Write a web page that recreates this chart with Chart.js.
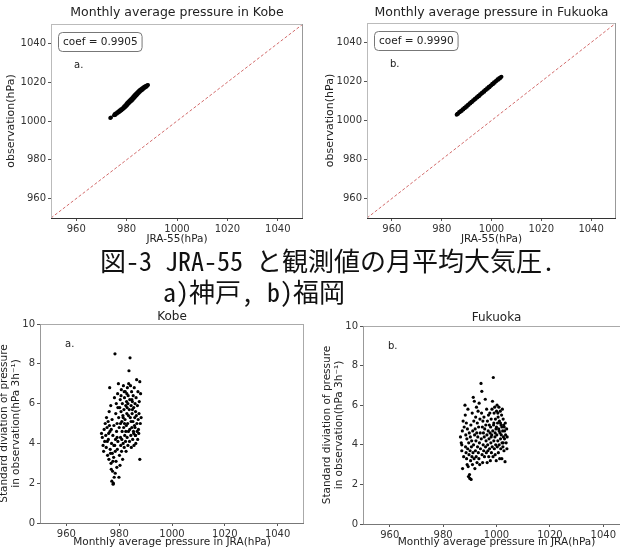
<!DOCTYPE html>
<html>
<head>
<meta charset="utf-8">
<script src="https://cdn.jsdelivr.net/npm/chart.js@4.4.1/dist/chart.umd.min.js"></script>
<style>
    html, body { margin: 0; padding: 0; background: #fff; width: 620px; height: 548px; overflow: hidden; position: relative; }
    canvas { position: absolute; }
    .caption {
        position: absolute;
        font-family: "Noto Sans CJK JP", sans-serif;
        font-size: 26px;
        line-height: 26px;
        color: #111;
        white-space: pre;
        font-feature-settings: "hwid" 1;
    }
</style>
</head>
<body>
<canvas id="kobe-monthly" width="310" height="246" style="left:0;top:0"></canvas>
<canvas id="fukuoka-monthly" width="310" height="246" style="left:310px;top:0"></canvas>
<div class="caption" style="left:100px;top:247px">図-3 JRA-55 と観測値の月平均大気圧.</div>
<div class="caption" style="left:163px;top:278px">a)神戸, b)福岡</div>
<canvas id="kobe-spread" width="320" height="256" style="left:-10px;top:300px"></canvas>
<canvas id="fukuoka-spread" width="330" height="256" style="left:310px;top:300px"></canvas>
<script>
// JRA-55 monthly mean (x) vs observed monthly mean (y), hPa
const kobeMonthly = [
    [973.5, 1001.5], [973.8, 1001.8],
    [975.0, 1003.0], [975.3, 1003.6], [975.5, 1003.1], [975.8, 1004.0], [976.1, 1003.7], [976.3, 1004.5],
    [976.6, 1004.2], [976.8, 1005.0], [977.1, 1004.6], [977.3, 1005.5], [977.6, 1005.1], [977.8, 1006.0],
    [978.0, 1005.6], [978.3, 1006.5], [978.5, 1006.1], [978.7, 1007.0], [978.9, 1006.6], [979.1, 1007.6],
    [979.3, 1007.0], [979.5, 1008.1], [979.7, 1007.5], [979.9, 1008.7], [980.1, 1008.0], [980.2, 1009.3],
    [980.4, 1008.5], [980.6, 1009.8], [980.8, 1009.0], [981.0, 1010.3], [981.2, 1009.5], [981.4, 1010.8],
    [981.6, 1010.0], [981.8, 1011.3], [982.0, 1010.5], [982.2, 1011.9], [982.4, 1011.0], [982.6, 1012.5],
    [982.8, 1011.6], [983.0, 1013.1], [983.2, 1012.1], [983.4, 1013.7], [983.6, 1012.7], [983.8, 1014.2],
    [984.0, 1013.3], [984.2, 1014.7], [984.4, 1013.9], [984.6, 1015.2], [984.8, 1014.4], [985.0, 1015.7],
    [985.2, 1014.9], [985.4, 1016.1], [985.6, 1015.4], [985.8, 1016.5], [986.0, 1015.9], [986.2, 1016.9],
    [986.4, 1016.3], [986.6, 1017.3], [986.8, 1016.7], [987.0, 1017.6], [987.2, 1017.1], [987.4, 1017.9],
    [987.6, 1017.5], [987.8, 1018.2], [988.0, 1017.8], [988.2, 1018.4], [988.5, 1018.5],
    [979.0, 1007.2], [980.5, 1009.1], [981.5, 1010.4], [982.5, 1011.7], [983.5, 1013.2], [984.5, 1014.5],
    [985.5, 1015.8], [982.9, 1012.4], [984.1, 1014.0],
];

const fukuokaMonthly = [
    [986.0, 1003.0], [986.3, 1003.5], [986.6, 1003.5], [987.0, 1004.3], [987.3, 1004.2], [987.7, 1005.0],
    [988.0, 1004.9], [988.4, 1005.8], [988.7, 1005.7], [989.1, 1006.5], [989.4, 1006.4], [989.8, 1007.3],
    [990.1, 1007.1], [990.5, 1008.1], [990.8, 1007.9], [991.2, 1008.9], [991.5, 1008.7], [991.9, 1009.6],
    [992.2, 1009.5], [992.6, 1010.4], [992.9, 1010.2], [993.3, 1011.2], [993.6, 1011.0], [994.0, 1011.9],
    [994.3, 1011.8], [994.7, 1012.7], [995.0, 1012.5], [995.4, 1013.5], [995.7, 1013.3], [996.1, 1014.2],
    [996.4, 1014.1], [996.8, 1015.0], [997.1, 1014.8], [997.5, 1015.8], [997.8, 1015.6], [998.2, 1016.5],
    [998.5, 1016.3], [998.9, 1017.3], [999.2, 1017.1], [999.6, 1018.0], [999.9, 1017.9], [1000.3, 1018.8],
    [1000.6, 1018.6], [1001.0, 1019.6], [1001.3, 1019.4], [1001.7, 1020.3], [1002.0, 1020.2], [1002.4, 1021.1],
    [1002.7, 1020.9], [1003.1, 1021.8], [1003.4, 1021.6], [1003.7, 1022.2], [1004.0, 1022.5],
];

// JRA-55 monthly mean (x) vs std of 3-hourly pressure change (y)
const kobeSpread = [
    [973.3, 4.5], [973.6, 4.3], [973.9, 3.9], [974.1, 3.6], [974.3, 4.7], [974.5, 4.1], [974.7, 5.0], [974.9, 4.4],
    [975.1, 3.8], [975.2, 5.3], [975.4, 4.8], [975.6, 3.4], [975.8, 5.1], [975.9, 4.2], [976.1, 3.2], [976.2, 5.6],
    [976.4, 6.8], [976.5, 4.6], [976.6, 3.7], [976.8, 5.9], [976.9, 3.0], [977.0, 2.7], [977.1, 4.0], [977.2, 2.1],
    [977.3, 5.2], [977.4, 3.5], [977.5, 2.6], [977.6, 4.4], [977.7, 1.95], [977.8, 2.0], [977.9, 3.3], [978.0, 4.9],
    [978.1, 2.3], [978.2, 6.3], [978.3, 3.9], [978.4, 8.5], [978.5, 2.5], [978.6, 4.2], [978.7, 5.5], [978.8, 3.1],
    [978.9, 6.0], [979.0, 4.6], [979.1, 2.8], [979.2, 5.0], [979.3, 3.7], [979.4, 6.5], [979.5, 4.1], [979.7, 7.0],
    [979.8, 5.3], [979.9, 2.3], [980.0, 4.8], [980.1, 3.4], [980.2, 5.8], [980.3, 2.9], [980.4, 6.2], [980.5, 4.3],
    [980.6, 3.9], [980.7, 5.6], [980.8, 6.7], [980.9, 3.6], [981.0, 5.1], [981.1, 4.6], [981.2, 6.0], [981.3, 3.2],
    [981.4, 5.4], [981.5, 4.0], [981.6, 6.9], [981.7, 4.8], [981.8, 5.7], [981.9, 3.8], [982.0, 6.3], [982.1, 4.4],
    [982.2, 5.2], [982.3, 6.6], [982.4, 4.1], [982.5, 5.9], [982.6, 3.6], [982.7, 4.9], [982.8, 6.1], [982.9, 5.5],
    [983.0, 4.3], [983.1, 6.8], [983.2, 5.0], [983.3, 3.9], [983.4, 6.4], [983.5, 4.6], [983.6, 7.0], [983.7, 7.65],
    [983.8, 5.7], [983.9, 4.1], [984.0, 6.2], [984.1, 8.3], [984.2, 5.3], [984.3, 6.9], [984.4, 4.4], [984.5, 5.9],
    [984.6, 3.8], [984.7, 6.6], [984.8, 4.8], [984.9, 5.5], [985.0, 6.1], [985.1, 4.2], [985.2, 5.1], [985.3, 6.4],
    [985.4, 4.6], [985.5, 5.8], [985.6, 3.9], [985.7, 6.8], [985.8, 4.9], [985.9, 5.3], [986.0, 6.0], [986.1, 4.4],
    [986.2, 5.6], [986.3, 4.0], [986.4, 6.3], [986.6, 7.2], [986.7, 5.0], [986.8, 4.6], [986.9, 5.9], [987.0, 4.2],
    [987.1, 6.6], [987.2, 5.2], [987.3, 4.7], [987.5, 5.5], [987.6, 6.1], [987.8, 3.2], [987.8, 7.1], [988.0, 5.0],
    [988.1, 6.5], [988.3, 5.3],
    [980.5, 5.0], [981.5, 5.3], [982.5, 4.6], [983.5, 5.4], [984.5, 5.1], [985.5, 4.5], [983.0, 5.8], [984.0, 4.7],
    [985.0, 5.7], [986.0, 4.8], [982.0, 5.0], [981.0, 4.2], [979.5, 5.8], [978.5, 3.6], [977.0, 4.7], [976.0, 4.5],
    [975.5, 4.1], [984.8, 6.2], [986.5, 5.4], [983.3, 6.0], [982.9, 6.5], [981.9, 6.6], [980.7, 6.4], [979.2, 4.3],
    [978.0, 3.9], [977.6, 3.1], [976.7, 3.5], [976.3, 4.9], [987.4, 4.5], [986.2, 4.4],
];

const fukuokaSpread = [
    [986.5, 4.4], [986.8, 4.1], [987.0, 3.7], [987.0, 4.0], [987.2, 4.7], [987.3, 2.8], [987.5, 5.2], [987.7, 3.4],
    [987.9, 4.9], [988.2, 6.0], [988.3, 5.5], [988.4, 3.9], [988.5, 4.5], [988.6, 3.6], [988.7, 5.1], [988.8, 3.3],
    [988.9, 4.3], [989.0, 3.0], [989.1, 4.8], [989.2, 3.8], [989.3, 5.8], [989.4, 2.9], [989.5, 2.4], [989.6, 4.1],
    [989.7, 3.5], [989.8, 4.6], [989.9, 2.5], [990.0, 2.3], [990.1, 3.7], [990.2, 4.4], [990.3, 3.2], [990.4, 5.0],
    [990.5, 2.25], [990.6, 3.9], [990.7, 4.2], [990.8, 3.4], [990.9, 5.6], [991.0, 3.0], [991.1, 4.7], [991.2, 3.6],
    [991.3, 6.4], [991.4, 4.0], [991.5, 5.2], [991.6, 3.3], [991.7, 6.2], [991.8, 4.5], [991.9, 2.8], [992.0, 4.8],
    [992.1, 3.7], [992.2, 5.4], [992.3, 4.2], [992.4, 3.4], [992.5, 5.9], [992.6, 4.6], [992.7, 3.1], [992.8, 5.1],
    [992.9, 3.9], [993.0, 4.4], [993.1, 5.7], [993.2, 3.6], [993.3, 4.9], [993.4, 3.3], [993.5, 6.1], [993.6, 4.1],
    [993.7, 3.0], [993.8, 5.3], [993.9, 4.6], [994.0, 3.8], [994.2, 7.1], [994.3, 4.3], [994.4, 5.6], [994.5, 6.7],
    [994.6, 3.5], [994.7, 4.9], [994.8, 3.1], [994.9, 5.2], [995.0, 4.0], [995.1, 4.6], [995.2, 3.7], [995.3, 5.4],
    [995.4, 4.4], [995.5, 3.4], [995.6, 4.8], [995.8, 6.3], [995.9, 3.9], [996.0, 5.0], [996.1, 4.2], [996.2, 3.6],
    [996.3, 5.8], [996.4, 4.5], [996.5, 3.1], [996.6, 5.2], [996.7, 4.0], [996.8, 3.7], [996.9, 4.7], [997.0, 5.5],
    [997.1, 3.4], [997.2, 4.3], [997.3, 5.0], [997.4, 3.8], [997.5, 5.6], [997.6, 4.6], [997.7, 3.2], [997.8, 4.9],
    [997.9, 4.1], [998.0, 5.3], [998.1, 3.6], [998.2, 4.5], [998.3, 5.8], [998.4, 3.9], [998.5, 6.2], [998.6, 4.7],
    [998.7, 3.4], [998.8, 7.4], [998.9, 5.0], [999.0, 4.2], [999.1, 5.6], [999.2, 3.8], [999.3, 5.9], [999.4, 4.4],
    [999.5, 3.5], [999.6, 5.3], [999.7, 4.0], [999.8, 4.8], [999.9, 3.2], [1000.0, 5.7], [1000.1, 4.5], [1000.2, 6.0],
    [1000.3, 3.9], [1000.4, 5.1], [1000.5, 4.2], [1000.6, 5.4], [1000.7, 3.6], [1000.8, 4.8], [1000.9, 5.9], [1001.0, 4.0],
    [1001.1, 5.2], [1001.2, 3.3], [1001.3, 4.6], [1001.4, 5.7], [1001.5, 4.3], [1001.6, 3.8], [1001.7, 5.0], [1001.8, 4.5],
    [1001.9, 5.5], [1002.0, 3.3], [1002.1, 4.1], [1002.2, 5.8], [1002.3, 4.7], [1002.4, 3.9], [1002.5, 5.3], [1002.6, 4.4],
    [1002.7, 5.0], [1002.8, 3.7], [1002.9, 4.9], [1003.0, 4.3], [1003.2, 3.15], [1003.3, 5.1], [1003.4, 4.5], [1003.6, 4.1],
    [1003.8, 4.8], [1003.9, 3.8], [1004.0, 4.4],
    [1000.0, 4.9], [1001.0, 4.7], [1002.0, 4.9], [1003.0, 4.7], [999.0, 5.1], [998.0, 4.4], [1001.5, 5.1], [1000.5, 5.6],
    [1002.5, 4.1], [999.5, 4.6],
];

const pressureRange = [950, 1050];
const pressureTicks = [960, 980, 1000, 1020, 1040];
const spreadRange = [0, 10];
const spreadTicks = [0, 2, 4, 6, 8, 10];
const coefKobe = 'coef = 0.9905';
const coefFukuoka = 'coef = 0.9990';

Chart.defaults.font.family = "'DejaVu Sans', sans-serif";
Chart.defaults.color = '#333';

// matplotlib-like frame, coef box and panel letter
const framePlugin = {
    id: 'frame',
    afterDraw(chart, args, opts) {
        const { ctx, chartArea: a } = chart;
        ctx.save();
        ctx.lineWidth = 1;
        const side = (x1, y1, x2, y2, color) => {
            ctx.strokeStyle = color;
            ctx.beginPath();
            ctx.moveTo(x1, y1);
            ctx.lineTo(x2, y2);
            ctx.stroke();
        };
        side(a.left, a.top + 0.5, a.right, a.top + 0.5, opts.top);
        side(a.right - 0.5, a.top, a.right - 0.5, a.bottom, opts.right);
        side(a.left + 0.5, a.top, a.left + 0.5, a.bottom, opts.left);
        side(a.left, a.bottom + 0.5, a.right, a.bottom + 0.5, opts.bottom);

        ctx.fillStyle = '#222';
        ctx.textBaseline = 'middle';
        if (opts.coef) {
            ctx.font = "10.5px 'DejaVu Sans'";
            const w = ctx.measureText(opts.coef).width + 9;
            const h = 19;
            const x = a.left + opts.boxX + 0.5;
            const y = a.top + opts.boxY + 0.5;
            const r = 4;
            ctx.strokeStyle = '#777';
            ctx.beginPath();
            ctx.moveTo(x + r, y);
            ctx.arcTo(x + w, y, x + w, y + h, r);
            ctx.arcTo(x + w, y + h, x, y + h, r);
            ctx.arcTo(x, y + h, x, y, r);
            ctx.arcTo(x, y, x + w, y, r);
            ctx.closePath();
            ctx.stroke();
            ctx.fillText(opts.coef, x + 4.5, y + h / 2 + 0.5);
        }
        ctx.font = "10px 'DejaVu Sans'";
        ctx.fillText(opts.tag, a.left + opts.tagX, a.top + opts.tagY);
        ctx.restore();
    },
};

function makeAxis(range, ticks, title, cfg) {
    return {
        type: 'linear',
        min: range[0],
        max: range[1],
        afterBuildTicks(scale) {
            scale.ticks = ticks.map((value) => ({ value }));
        },
        afterFit(scale) {
            if (cfg.horizontal) {
                scale.height = cfg.size;
            } else {
                scale.width = cfg.size;
            }
        },
        grid: { drawOnChartArea: false, tickLength: 3, color: '#555' },
        border: { display: false },
        ticks: {
            color: '#333',
            font: { size: 10 },
            padding: 2,
            maxRotation: 0,
            autoSkip: false,
            callback: (value) => String(value),
        },
        title: {
            display: true,
            text: title,
            color: '#222',
            font: { size: cfg.titleSize },
            padding: cfg.titlePad,
        },
    };
}

function points(list) {
    return list.map(([x, y]) => ({ x, y }));
}

function drawPanel(id, cfg) {
    const datasets = [{
        data: points(cfg.data),
        backgroundColor: '#000',
        borderWidth: 0,
        pointRadius: cfg.radius,
    }];
    if (cfg.diagonal) {
        datasets.push({
            data: [
                { x: pressureRange[0], y: pressureRange[0] },
                { x: pressureRange[1], y: pressureRange[1] },
            ],
            showLine: true,
            borderColor: '#d26b6b',
            borderWidth: 1,
            borderDash: [3, 2],
            pointRadius: 0,
        });
    }
    new Chart(document.getElementById(id), {
        type: 'scatter',
        data: { datasets },
        options: {
            responsive: false,
            animation: false,
            devicePixelRatio: 1,
            layout: { padding: cfg.padding },
            plugins: {
                legend: { display: false },
                tooltip: { enabled: false },
                title: {
                    display: true,
                    text: cfg.title,
                    fullSize: false,
                    color: '#222',
                    font: { size: cfg.titleSize, weight: 'normal' },
                    padding: cfg.titlePad,
                },
                frame: cfg.frame,
            },
            scales: {
                x: makeAxis(pressureRange, pressureTicks, cfg.xTitle, cfg.x),
                y: makeAxis(cfg.yRange, cfg.yTicks, cfg.yTitle, cfg.y),
            },
        },
        plugins: [framePlugin],
    });
}

const topFrame = { top: '#bbb', right: '#999', left: '#bbb', bottom: '#333', boxX: 7, boxY: 8, tagX: 23, tagY: 41 };
const lowFrame = { top: '#aaa', right: '#aaa', left: '#999', bottom: '#777', tagX: 25, tagY: 20 };

drawPanel('kobe-monthly', {
    data: kobeMonthly,
    radius: 2,
    diagonal: true,
    title: 'Monthly average pressure in Kobe',
    titleSize: 12.5,
    titlePad: { top: 5.5, bottom: 3.5 },
    padding: { left: 0, right: 7, top: 0, bottom: 0 },
    xTitle: 'JRA-55(hPa)',
    yTitle: 'observation(hPa)',
    yRange: pressureRange,
    yTicks: pressureTicks,
    x: { horizontal: true, size: 28, titleSize: 10.5, titlePad: { top: 0, bottom: 0.7 } },
    y: { horizontal: false, size: 51, titleSize: 11, titlePad: { top: 4.4, bottom: 0 } },
    frame: { ...topFrame, coef: coefKobe, tag: 'a.' },
});

drawPanel('fukuoka-monthly', {
    data: fukuokaMonthly,
    radius: 2,
    diagonal: true,
    title: 'Monthly average pressure in Fukuoka',
    titleSize: 12.5,
    titlePad: { top: 5.5, bottom: 2.5 },
    padding: { left: 0, right: 2, top: 0, bottom: 0 },
    xTitle: 'JRA-55(hPa)',
    yTitle: 'observation(hPa)',
    yRange: pressureRange,
    yTicks: pressureTicks,
    x: { horizontal: true, size: 28, titleSize: 10.5, titlePad: { top: 0, bottom: 0.7 } },
    y: { horizontal: false, size: 57, titleSize: 11, titlePad: { top: 13.4, bottom: 0 } },
    frame: { ...topFrame, coef: coefFukuoka, tag: 'b.' },
});

drawPanel('kobe-spread', {
    data: kobeSpread,
    radius: 1.6,
    diagonal: false,
    title: 'Kobe',
    titleSize: 12,
    titlePad: { top: 9.6, bottom: 0 },
    padding: { left: 0, right: 6, top: 0, bottom: 0 },
    xTitle: 'Monthly average pressure in JRA(hPa)',
    yTitle: ['Standard diviation of pressure', 'in observation(hPa 3h\u207B\u00B9)'],
    yRange: spreadRange,
    yTicks: spreadTicks,
    x: { horizontal: true, size: 33, titleSize: 10.5, titlePad: { top: 0, bottom: 7.7 } },
    y: { horizontal: false, size: 50, titleSize: 10.5, titlePad: { top: 7.7, bottom: 0 } },
    frame: { ...lowFrame, tag: 'a.' },
});

drawPanel('fukuoka-spread', {
    data: fukuokaSpread,
    radius: 1.6,
    diagonal: false,
    title: 'Fukuoka',
    titleSize: 12,
    titlePad: { top: 10.8, bottom: 0.8 },
    padding: { left: 0, right: 10, top: 0, bottom: 0 },
    xTitle: 'Monthly average pressure in JRA(hPa)',
    yTitle: ['Standard diviation of pressure', 'in observation(hPa 3h\u207B\u00B9)'],
    yRange: spreadRange,
    yTicks: spreadTicks,
    x: { horizontal: true, size: 32, titleSize: 10.5, titlePad: { top: 0, bottom: 7.7 } },
    y: { horizontal: false, size: 53, titleSize: 10.5, titlePad: { top: 10.7, bottom: 0 } },
    frame: { ...lowFrame, tag: 'b.' },
});
</script>
</body>
</html>
